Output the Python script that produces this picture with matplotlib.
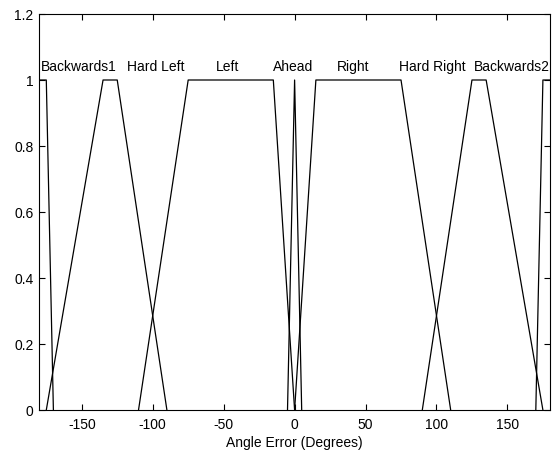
import numpy as np
import matplotlib
matplotlib.use('Agg')
import matplotlib.pyplot as plt

plt.rcParams['font.family'] = ['Liberation Sans', 'DejaVu Sans']
plt.rcParams['axes.unicode_minus'] = False

# membership function breakpoints (degrees) and membership values
mf_names = ['Backwards1', 'Hard Left', 'Left', 'Ahead', 'Right', 'Hard Right', 'Backwards2']
backwards1_x = [-180, -175, -170]
backwards1_y = [1, 1, 0]
hard_left_x = [-175, -135, -125, -90]
hard_left_y = [0, 1, 1, 0]
left_x = [-110, -75, -15, 0]
left_y = [0, 1, 1, 0]
ahead_x = [-5, 0, 5]
ahead_y = [0, 1, 0]
right_x = [0, 15, 75, 110]
right_y = [0, 1, 1, 0]
hard_right_x = [90, 125, 135, 175]
hard_right_y = [0, 1, 1, 0]
backwards2_x = [170, 175, 180]
backwards2_y = [0, 1, 1]

# where the labels sit (x in degrees, pushed inward like MATLAB does)
label_x = [-152, -98, -47, -1, 41, 97, 153]

xticks = [-150, -100, -50, 0, 50, 100, 150]
yticks = [0, 0.2, 0.4, 0.6, 0.8, 1, 1.2]
ytick_labels = ['0', '0.2', '0.4', '0.6', '0.8', '1', '1.2']

fig = plt.figure(figsize=(5.54, 4.5), dpi=100)
ax = fig.add_axes([39.2/554, 40/450, (550-39.2)/554, (410-14)/450])

mfs = [(backwards1_x, backwards1_y), (hard_left_x, hard_left_y), (left_x, left_y),
       (ahead_x, ahead_y), (right_x, right_y), (hard_right_x, hard_right_y),
       (backwards2_x, backwards2_y)]
for (x, y) in mfs:
  ax.plot(x, y, color='black', lw=0.9)

for name, lx in zip(mf_names, label_x):
  ax.text(lx, 1.04, name, ha='center', va='center', fontsize=10)

ax.set_xlim(-180, 180)
ax.set_ylim(0, 1.2)
ax.set_xticks(xticks)
ax.set_xticklabels([str(t) for t in xticks])
ax.set_yticks(yticks)
ax.set_yticklabels(ytick_labels)
ax.tick_params(direction='in', length=4, width=0.8, top=True, right=True, labelsize=10)
ax.tick_params(axis='x', pad=6)
ax.tick_params(axis='y', pad=4)
for s in ax.spines.values():
  s.set_linewidth(0.8)
ax.set_xlabel('Angle Error (Degrees)', fontsize=10, labelpad=3)

plt.savefig('out.png', dpi=100)
